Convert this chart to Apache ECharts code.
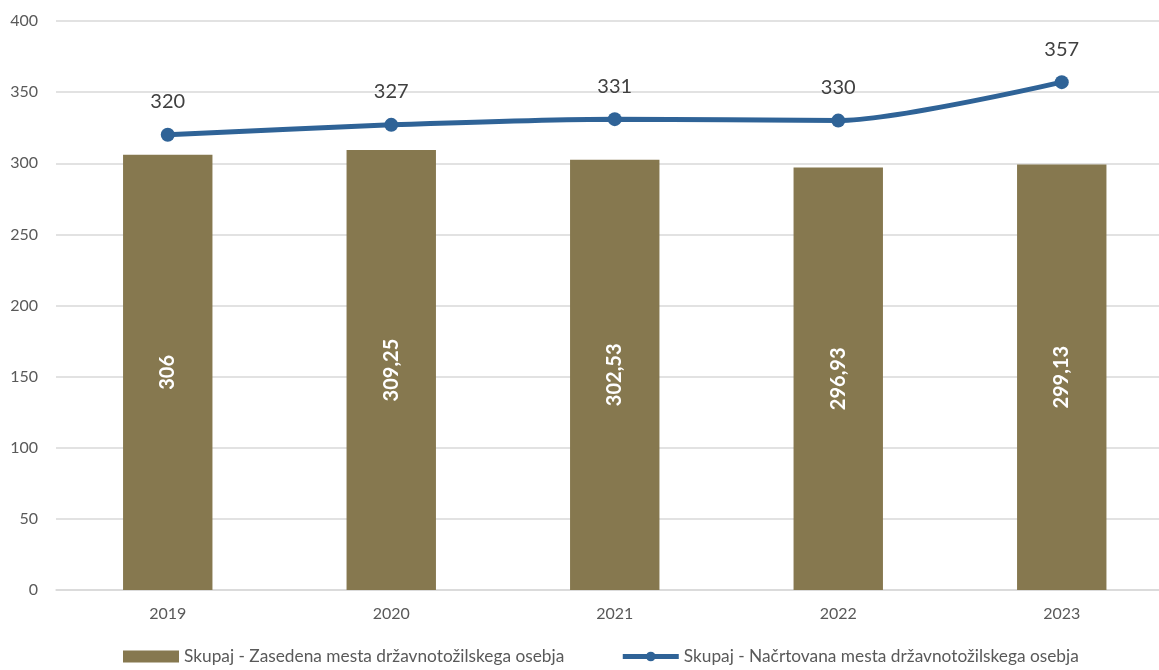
<!DOCTYPE html>
<html><head><meta charset="utf-8">
<script src="https://cdn.jsdelivr.net/npm/echarts@6/dist/echarts.min.js"></script>
<style>html,body{margin:0;padding:0;background:#fff}#c{width:1159px;height:670px}</style>
</head><body><div id="c"></div>
<script>
const categories = ['2019','2020','2021','2022','2023'];
const occupied = [306, 309.25, 302.53, 296.93, 299.13];
const planned = [320, 327, 331, 330, 357];
const yTicks = [0, 50, 100, 150, 200, 250, 300, 350, 400];
const seriesNames = ['Skupaj - Zasedena mesta državnotožilskega osebja', 'Skupaj - Načrtovana mesta državnotožilskega osebja'];
const FONT = 'Lato, "Open Sans", sans-serif';
const fmt = v => String(v).replace('.', ',');

const chart = echarts.init(document.getElementById('c'));
chart.setOption({
  animation: false,
  textStyle: {fontFamily: FONT},
  grid: {left: 56, top: 21, bottom: 80, width: 1117.5, outerBoundsMode: 'none', containLabel: false},
  legend: {
    bottom: 0, left: 118, itemGap: 56, itemWidth: 56, itemHeight: 12,
    textStyle: {fontSize: 17.3, color: '#595959', fontFamily: FONT},
    lineStyle: {width: 5},
    data: [{name: seriesNames[0], icon: 'rect'}, {name: seriesNames[1]}]
  },
  xAxis: {
    type: 'category', data: categories,
    axisLine: {lineStyle: {color: '#d9d9d9', width: 1.5}},
    axisTick: {show: false},
    axisLabel: {fontSize: 16, color: '#595959', margin: 16, fontFamily: FONT}
  },
  yAxis: {
    type: 'value', min: yTicks[0], max: yTicks[yTicks.length-1], interval: 50,
    axisLine: {show: false}, axisTick: {show: false},
    splitLine: {lineStyle: {color: '#d9d9d9', width: 1.5}},
    axisLabel: {fontSize: 16, color: '#595959', margin: 18, fontFamily: FONT}
  },
  series: [
    {
      name: seriesNames[0], type: 'bar', data: occupied, barWidth: '40%',
      itemStyle: {color: '#86784F'},
      label: {show: true, position: 'inside', rotate: 90, color: '#fff', fontWeight: 'bold', fontSize: 20,
        fontFamily: FONT, formatter: p => fmt(p.value)}
    },
    {
      name: seriesNames[1], type: 'line', data: planned, smooth: 0.25,
      symbol: 'circle', symbolSize: 14,
      lineStyle: {color: '#2F6397', width: 5},
      itemStyle: {color: '#2F6397'},
      label: {show: true, position: 'top', distance: 16, fontSize: 20, color: '#404040', fontFamily: FONT}
    }
  ]
});
</script></body></html>
